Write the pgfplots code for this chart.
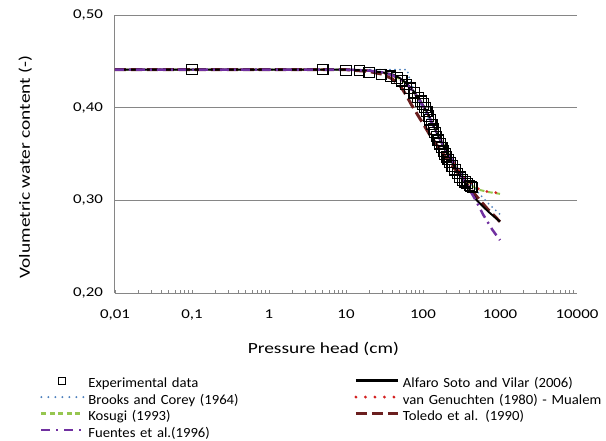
\documentclass[border=0pt]{standalone}
\usepackage{pgfplots}
\pgfplotsset{compat=1.18}
\usepackage{fontspec}
\setmainfont{Carlito}
\newfontfamily\tickfont[FakeStretch=1.25]{Carlito}
\newfontfamily\labfont[FakeStretch=1.25]{Carlito}
\newfontfamily\legfont[FakeStretch=1.05]{Carlito}
\definecolor{gridgray}{RGB}{134,134,134}
\definecolor{bcblue}{RGB}{79,129,189}
\definecolor{vgred}{RGB}{212,32,32}
\definecolor{kgreen}{RGB}{150,198,80}
\definecolor{tdred}{RGB}{107,31,31}
\definecolor{fpurple}{RGB}{112,48,160}
\pgfplotsset{squarelegend/.style={legend image code/.code={\path[draw=none] (0bp,0bp) (47bp,0bp); \draw[black, line width=1.1bp] plot[only marks, mark=square, mark size=3.5bp] coordinates {(21bp,3.5bp)};}}}
\begin{document}
\begin{tikzpicture}
\begin{axis}[name=ax, scale only axis, width=462bp, height=278bp,
  xmode=log, xmin=0.01, xmax=10000, ymin=0.2, ymax=0.5,
  axis x line*=bottom, axis y line*=left,
  axis line style={draw=gridgray, line width=1bp},
  ytick={0.2,0.3,0.4,0.5}, yticklabels={{0,20},{0,30},{0,40},{0,50}},
  xtick={0.01,0.1,1,10,100,1000,10000},
  xticklabels={{0,01},{0,1},1,10,100,1000,10000},
  ymajorgrids, grid style={draw=gridgray, line width=1bp},
  ytick style={draw=none},
  tick align=inside, major tick length=0bp, minor tick length=3.5bp,
  minor tick style={draw=gridgray, line width=0.8bp},
  tick label style={font=\tickfont\fontsize{13.5bp}{16bp}\selectfont, text=black},
  xticklabel style={yshift=-13bp},
  yticklabel style={xshift=-8.5bp},
  xlabel={Pressure head (cm)},
  xlabel style={font=\labfont\fontsize{15.5bp}{18bp}\selectfont, at={(axis description cs:0.451,0)}, anchor=base, yshift=-60bp},
  ylabel={Volumetric water content (-)},
  ylabel style={font=\labfont\fontsize{15.5bp}{18bp}\selectfont, at={(axis description cs:-0.184,0.453)}, anchor=base, rotate=0},
  legend columns=2, legend cell align=left,
  legend style={at={(axis description cs:-0.1623,-0.298)}, anchor=north west, draw=none, fill=none, inner sep=0pt, outer sep=0pt,
    font=\legfont\fontsize{14bp}{16.5bp}\selectfont, /tikz/column sep=0pt, /tikz/row sep=0pt,
    nodes={inner xsep=0pt, inner ysep=1.25bp, text height=10.5bp, text depth=3.5bp},
    /tikz/every even column/.append style={text width=266bp}},
  legend image code/.code={\draw[#1] (0bp,3.5bp) -- (42bp,3.5bp); \path[draw=none] (0bp,0bp) (47bp,0bp);},
]
% Kosugi (1993)
\addplot[forget plot, kgreen, line width=2bp, dash pattern=on 5bp off 3.5bp] coordinates {
(0.01,0.441) (10,0.441) (20,0.440) (30,0.438) (40,0.435) (50,0.431) (60,0.426) (70,0.420) (80,0.414) (90,0.408) (100,0.402) (120,0.390) (150,0.374) (200,0.355) (250,0.341) (300,0.330) (400,0.318) (500,0.312) (700,0.309) (1000,0.307)};
% van Genuchten (1980) - Mualem
\addplot[forget plot, vgred, line width=3bp, line cap=round, dash pattern=on 0bp off 9bp] coordinates {
(0.01,0.441) (10,0.441) (20,0.440) (30,0.438) (40,0.435) (50,0.431) (60,0.426) (70,0.420) (80,0.414) (90,0.408) (100,0.402) (120,0.390) (150,0.374) (200,0.355) (250,0.341) (300,0.331) (400,0.319) (500,0.313) (700,0.309) (1000,0.308)};
% Brooks and Corey (1964)
\addplot[forget plot, bcblue, line width=2bp, line cap=round, dash pattern=on 0bp off 5bp] coordinates {
(0.01,0.441) (62,0.441) (66,0.433) (72,0.424) (80,0.415) (90,0.406) (100,0.399) (120,0.387) (150,0.372) (200,0.355) (300,0.334) (400,0.320) (500,0.310) (700,0.297) (1000,0.285)};
% Toledo et al. (1990)
\addplot[forget plot, tdred, line width=3bp, dash pattern=on 11bp off 5bp] coordinates {
(0.01,0.441) (10,0.441) (20,0.439) (30,0.436) (40,0.431) (50,0.424) (55,0.419) (63,0.411) (71,0.403) (80,0.396) (90,0.389) (100,0.383) (120,0.372) (150,0.360) (200,0.346) (300,0.327) (400,0.314) (500,0.304) (700,0.290) (1000,0.277)};
% Alfaro Soto and Vilar (2006)
\addplot[forget plot, black, line width=1.9bp] coordinates {
(0.01,0.441) (10,0.441) (20,0.440) (30,0.438) (40,0.436) (50,0.432) (60,0.427) (70,0.421) (80,0.415) (90,0.409) (100,0.403) (120,0.391) (150,0.373) (200,0.352) (250,0.338) (300,0.328) (400,0.312) (500,0.300) (700,0.288) (1000,0.277)};
% Fuentes et al. (1996)
\addplot[forget plot, fpurple, line width=2.5bp, dash pattern=on 9bp off 5bp on 2bp off 5bp] coordinates {
(0.01,0.441) (10,0.441) (20,0.440) (30,0.438) (40,0.435) (50,0.431) (60,0.426) (70,0.420) (80,0.414) (90,0.408) (100,0.402) (120,0.390) (150,0.373) (200,0.354) (300,0.330) (400,0.312) (500,0.298) (600,0.285) (800,0.268) (1000,0.257)};
% Experimental data
\addplot[forget plot, only marks, mark=square, mark size=5.2bp, black, line width=1.2bp] coordinates {
(0.1,0.441) (5,0.441) (10,0.440) (15,0.440) (20,0.438) (29,0.436) (38,0.434) (46,0.432) (53,0.429) (60,0.425) (68,0.421) (77,0.416) (86,0.411) (94,0.407) (100,0.404) (106,0.400) (112,0.396) (118,0.391) (123,0.387) (130,0.382) (137,0.377) (143,0.373) (150,0.369) (158,0.365) (166,0.361) (175,0.357) (184,0.353) (193,0.350) (203,0.347) (213,0.344) (224,0.341) (240,0.337) (260,0.333) (280,0.329) (302,0.325) (325,0.322) (351,0.320) (375,0.318) (400,0.316) (420,0.315) (440,0.314)};
\addlegendimage{squarelegend}
\addlegendentry{Experimental data}
\addlegendimage{black, line width=2.2bp}
\addlegendentry{Alfaro Soto and Vilar (2006)}
\addlegendimage{bcblue, line width=2.2bp, line cap=round, dash pattern=on 0bp off 7bp}
\addlegendentry{Brooks and Corey (1964)}
\addlegendimage{vgred, line width=3.2bp, line cap=round, dash pattern=on 0bp off 9.5bp}
\addlegendentry{van Genuchten (1980) - Mualem}
\addlegendimage{kgreen, line width=2.2bp, dash pattern=on 5bp off 3.5bp}
\addlegendentry{Kosugi (1993)}
\addlegendimage{tdred, line width=3.2bp, dash pattern=on 11bp off 5bp}
\addlegendentry{Toledo et al. (1990)}
\addlegendimage{fpurple, line width=2.7bp, dash pattern=on 9bp off 6bp on 2bp off 6bp}
\addlegendentry{Fuentes et al.(1996)}
\end{axis}
\pgfresetboundingbox
\path[use as bounding box] ([xshift=-115bp,yshift=-148bp]ax.south west) rectangle ([xshift=29bp,yshift=15bp]ax.north east);
\end{tikzpicture}
\end{document}
